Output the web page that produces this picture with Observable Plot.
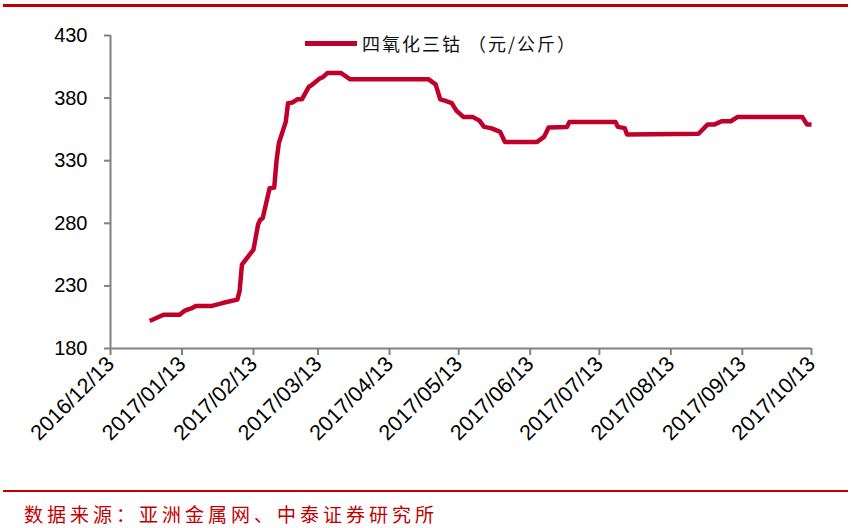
<!DOCTYPE html>
<html>
<head>
<meta charset="utf-8">
<script src="https://cdn.jsdelivr.net/npm/d3@7"></script>
<script src="https://cdn.jsdelivr.net/npm/@observablehq/plot@0.6"></script>
<style>
  body { margin: 0; background: #fff; }
  #wrap { position: relative; width: 866px; height: 528px; overflow: hidden; background: #fff; }
  #wrap svg { position: absolute; left: 0; top: 0; }
  .rule { position: absolute; background: #C00000; }
  #legend { position: absolute; left: 305px; top: 30px; height: 26px; display: flex; align-items: center;
            font-family: "Noto Sans CJK SC", sans-serif; font-size: 18px; letter-spacing: 2px; color: #111; white-space: pre; }
  #legend .swatch { width: 52px; height: 5px; background: #C0002A; margin-right: 5px; }
  #source { position: absolute; left: 24px; top: 502px; font-family: "Noto Sans CJK SC", sans-serif;
            font-size: 19px; letter-spacing: 4px; color: #C00000; line-height: 24px; white-space: nowrap; }
</style>
</head>
<body>
<div id="wrap"></div>
<script>
// ---- data ----
const dates = [
  "2016-12-30","2017-01-05","2017-01-12","2017-01-14","2017-01-16","2017-01-17","2017-01-19","2017-01-26",
  "2017-01-31","2017-02-06","2017-02-07","2017-02-08","2017-02-13","2017-02-15","2017-02-16","2017-02-17",
  "2017-02-20","2017-02-22","2017-02-23","2017-02-24","2017-02-27","2017-02-28","2017-03-02","2017-03-04",
  "2017-03-06","2017-03-09","2017-03-10","2017-03-14","2017-03-15","2017-03-17","2017-03-23","2017-03-27",
  "2017-04-30","2017-05-03","2017-05-05","2017-05-07","2017-05-10","2017-05-12","2017-05-15","2017-05-19",
  "2017-05-22","2017-05-24","2017-05-27","2017-05-31","2017-06-02","2017-06-16","2017-06-19","2017-06-21",
  "2017-06-29","2017-06-30","2017-07-20","2017-07-21","2017-07-24","2017-07-25","2017-08-25","2017-08-29",
  "2017-09-01","2017-09-04","2017-09-08","2017-09-11","2017-10-09","2017-10-11","2017-10-13"
];
const values = [
  202, 207, 207, 210, 211.5, 212, 214, 214,
  216.5, 219, 226, 247, 259, 279, 283, 284,
  308, 308.5, 330, 344, 361, 376, 376.5, 379,
  379, 389, 390, 396, 396.5, 400, 400, 395,
  395, 391, 379, 378, 376, 370, 365, 365,
  362, 357, 356, 353, 345, 345, 349, 356.5,
  357, 361, 361, 357, 356, 351, 351.5, 359,
  359, 361.5, 361.5, 365, 365, 359, 359
];
const tickDates = [
  "2016-12-13","2017-01-13","2017-02-13","2017-03-13","2017-04-13","2017-05-13",
  "2017-06-13","2017-07-13","2017-08-13","2017-09-13","2017-10-13"
];
const yTicks = [180, 230, 280, 330, 380, 430];
const seriesName = "四氧化三钴 （元/公斤）";
const sourceText = "数据来源：亚洲金属网、中泰证券研究所";

// ---- build ----
const parse = d3.utcParse("%Y-%m-%d");
const data = dates.map((d, i) => ({date: parse(d), value: values[i]}));
const xTicks = tickDates.map(parse);
const fmt = d3.utcFormat("%Y/%m/%d");
const axisColor = "#808080";

const chart = Plot.plot({
  width: 866,
  height: 528,
  marginLeft: 110,
  marginRight: 55,
  marginTop: 35,
  marginBottom: 180,
  style: {fontFamily: "'Liberation Sans', Arial, sans-serif", background: "transparent", color: "#000"},
  x: {type: "utc", domain: [xTicks[0], xTicks[xTicks.length - 1]]},
  y: {domain: [yTicks[0], yTicks[yTicks.length - 1]]},
  marks: [
    Plot.ruleX([xTicks[0]], {stroke: axisColor, strokeWidth: 2}),
    Plot.ruleY([yTicks[0]], {stroke: axisColor, strokeWidth: 2}),
    Plot.axisY({ticks: yTicks, tickSize: 6, tickPadding: 17, stroke: axisColor, strokeWidth: 2,
                fontSize: 20, label: null, tickFormat: d => d}),
    Plot.axisX({ticks: xTicks, tickSize: 7, tickPadding: 5, stroke: axisColor, strokeWidth: 2,
                fontSize: 21.5, tickRotate: -45, label: null, tickFormat: fmt}),
    Plot.line(data, {x: "date", y: "value", stroke: "#C0002A", strokeWidth: 4.5,
                     strokeLinejoin: "round", strokeLinecap: "butt"})
  ]
});

const wrap = document.getElementById("wrap");
wrap.appendChild(chart);

const topRule = document.createElement("div");
topRule.className = "rule";
Object.assign(topRule.style, {left: "3px", top: "4px", width: "845px", height: "3px"});
wrap.appendChild(topRule);

const bottomRule = document.createElement("div");
bottomRule.className = "rule";
Object.assign(bottomRule.style, {left: "3px", top: "490px", width: "845px", height: "2px"});
wrap.appendChild(bottomRule);

const legend = document.createElement("div");
legend.id = "legend";
legend.innerHTML = '<div class="swatch"></div><span></span>';
legend.querySelector("span").textContent = seriesName;
wrap.appendChild(legend);

const src = document.createElement("div");
src.id = "source";
src.textContent = sourceText;
wrap.appendChild(src);
</script>
</body>
</html>
